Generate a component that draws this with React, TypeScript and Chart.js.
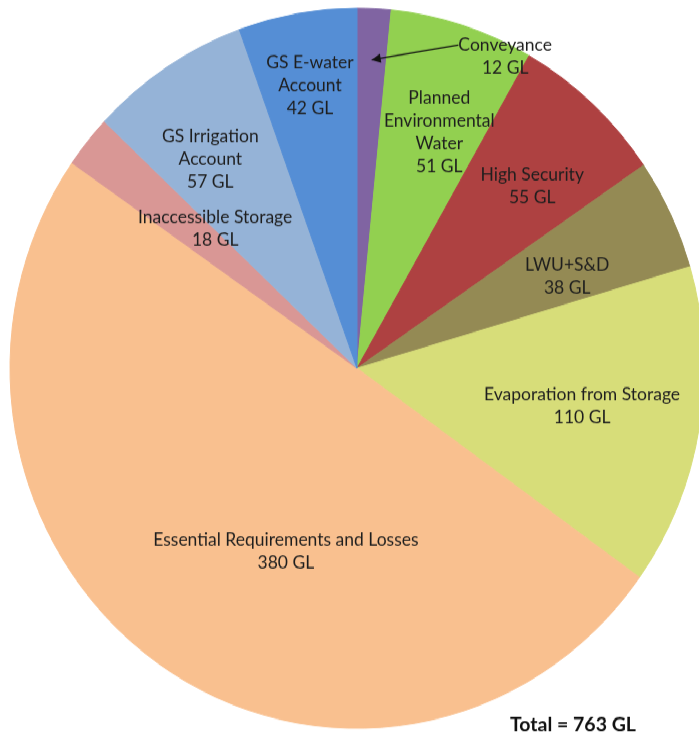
import React, { useEffect, useRef } from "react";
import { Chart, registerables } from "chart.js";

Chart.register(...registerables);

const categories = [
  "Conveyance",
  "Planned Environmental Water",
  "High Security",
  "LWU+S&D",
  "Evaporation from Storage",
  "Essential Requirements and Losses",
  "Inaccessible Storage",
  "GS Irrigation Account",
  "GS E-water Account",
];
const values = [12, 51, 55, 38, 110, 380, 18, 57, 42];
const labelLines = [
  ["Conveyance", "12 GL"],
  ["Planned", "Environmental", "Water", "51 GL"],
  ["High Security", "55 GL"],
  ["LWU+S&D", "38 GL"],
  ["Evaporation from Storage", "110 GL"],
  ["Essential Requirements and Losses", "380 GL"],
  ["Inaccessible Storage", "18 GL"],
  ["GS Irrigation", "Account", "57 GL"],
  ["GS E-water", "Account", "42 GL"],
];
const totalLabel = "Total = 763 GL";

const colors = [
  "#8064A2",
  "#92D050",
  "#AE4141",
  "#948A54",
  "#D7DD79",
  "#F9C08F",
  "#D99795",
  "#95B3D7",
  "#558ED5",
];
// label placement: angle offset (deg) from slice middle, radius fraction
const labelAngleOffset = [23.4, 2.2, 2.3, 2.6, -0.4, -13.2, 4.4, -2.8, 0.1];
const labelRadiusFrac = [0.966, 0.697, 0.714, 0.657, 0.657, 0.548, 0.563, 0.718, 0.796];
const arrowTipFrac = 0.858;

const STRETCH = 1.0375;
const W = 699;
const H = 708;

const labelPlugin = {
  id: "sliceLabels",
  afterDatasetsDraw(chart: any) {
    const ctx = chart.ctx;
    const meta = chart.getDatasetMeta(0);
    ctx.save();
    ctx.font = "17.5px Lato";
    ctx.fillStyle = "#1e1e1e";
    ctx.textAlign = "center";
    ctx.textBaseline = "middle";
    const lh = 22;
    meta.data.forEach((arc: any, i: number) => {
      const mid = (arc.startAngle + arc.endAngle) / 2;
      const a = mid + (labelAngleOffset[i] * Math.PI) / 180;
      const r = arc.outerRadius * labelRadiusFrac[i];
      const x = arc.x + r * Math.cos(a);
      const y = arc.y + r * Math.sin(a);
      const lines = labelLines[i];
      const y0 = y - ((lines.length - 1) * lh) / 2;
      lines.forEach((t, k) => ctx.fillText(t, x, y0 + k * lh));
      if (i === 0) {
        // arrow from label to slice
        const tw = ctx.measureText(lines[0]).width;
        const sx = x - tw / 2;
        const sy = y0;
        const tr = arc.outerRadius * arrowTipFrac;
        const tx = arc.x + tr * Math.cos(mid);
        const ty = arc.y + tr * Math.sin(mid);
        ctx.strokeStyle = "#111111";
        ctx.lineWidth = 1.3;
        ctx.beginPath();
        ctx.moveTo(sx, sy);
        ctx.lineTo(tx, ty);
        ctx.stroke();
        const ang = Math.atan2(ty - sy, tx - sx);
        const hl = 9;
        const hw = 4.5;
        ctx.fillStyle = "#111111";
        ctx.beginPath();
        ctx.moveTo(tx, ty);
        ctx.lineTo(
          tx - hl * Math.cos(ang) + hw * Math.sin(ang),
          ty - hl * Math.sin(ang) - hw * Math.cos(ang)
        );
        ctx.lineTo(
          tx - hl * Math.cos(ang) - hw * Math.sin(ang),
          ty - hl * Math.sin(ang) + hw * Math.cos(ang)
        );
        ctx.closePath();
        ctx.fill();
        ctx.fillStyle = "#1e1e1e";
      }
    });
    ctx.font = "bold 19.5px Lato";
    ctx.fillStyle = "#111111";
    ctx.textAlign = "right";
    ctx.textBaseline = "middle";
    ctx.fillText(totalLabel, 636, 699);
    ctx.restore();
  },
};

export default function App() {
  const ref = useRef<HTMLCanvasElement>(null);
  useEffect(() => {
    if (!ref.current) return;
    const chart = new Chart(ref.current, {
      type: "pie",
      data: {
        labels: categories,
        datasets: [
          {
            data: values,
            backgroundColor: colors,
            borderColor: colors,
            borderWidth: 1,
          },
        ],
      },
      options: {
        responsive: false,
        animation: false,
        devicePixelRatio: 1,
        radius: 347,
        layout: { padding: { left: 15, right: 0, top: 2, bottom: 0 } },
        plugins: {
          legend: { display: false },
          tooltip: { enabled: false },
        },
      },
      plugins: [labelPlugin],
    } as any);
    return () => chart.destroy();
  }, []);
  return (
    <div
      style={{
        position: "fixed",
        left: 0,
        top: 0,
        width: W,
        height: H,
        transform: `scaleY(${STRETCH})`,
        transformOrigin: "top left",
        background: "#ffffff",
      }}
    >
      <canvas ref={ref} width={W} height={H} style={{ width: W, height: H, display: "block" }} />
    </div>
  );
}
